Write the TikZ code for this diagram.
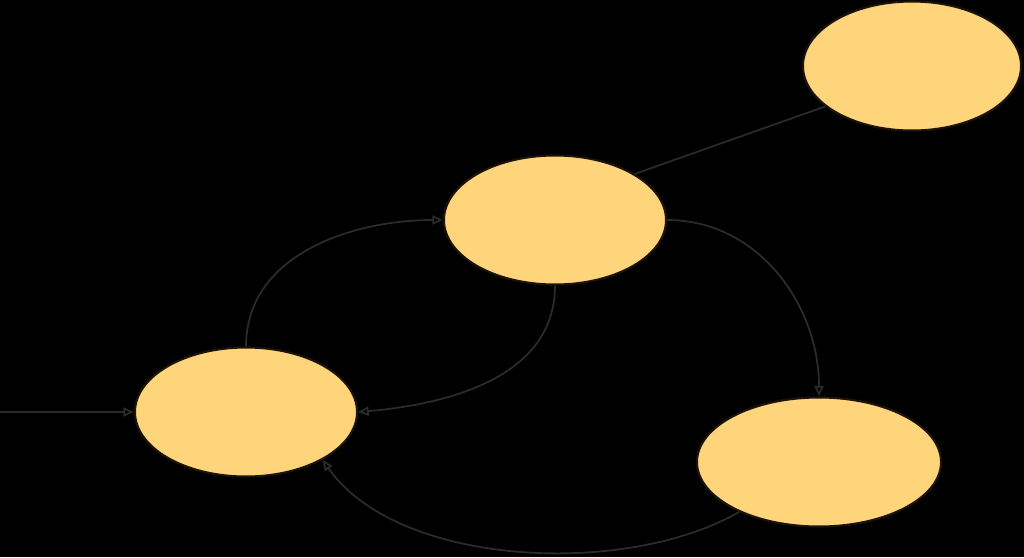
\documentclass[tikz,border=0pt]{standalone}
\usepackage{tikz}
\usetikzlibrary{arrows.meta,shapes.geometric}

\definecolor{statefill}{HTML}{FFD57B}
\definecolor{edgegray}{HTML}{2B2B2B}

\tikzset{
  state/.style={ellipse, draw=black!85!brown, line width=0.6pt, fill=statefill,
    minimum width=2.22cm, minimum height=1.29cm, inner sep=0pt},
  edge/.style={draw=edgegray, line width=0.5pt},
  arr/.style={edge, -{Triangle[open, length=3pt, width=2.6pt]}}
}

\begin{document}
\begin{tikzpicture}[x=0.01cm, y=-0.01cm]
\fill[black] (0,0) rectangle (1024,557);
\useasboundingbox (0,0) rectangle (1024,557);

\node[state] (start) at (246,412) {};
\node[state] (mid) at (555,220) {};
\node[state, minimum width=2.18cm] (top) at (912,66) {};
\node[state, minimum width=2.44cm] (low) at (819,462) {};
\coordinate (entry) at (0,412);

\draw[arr] (entry) -- (start.west);

\draw[arr] (start.north) to[out=90, in=180] (mid.west);
\draw[arr] (mid.south) to[out=-90, in=5] (start.east);
\draw[arr] (mid.east) to[out=0, in=90] (low.north);
\draw[arr] (low.212) to[out=-150, in=-55, looseness=0.8] (start.-32);

\draw[edge] (mid.30) -- (top.205);

\end{tikzpicture}
\end{document}
